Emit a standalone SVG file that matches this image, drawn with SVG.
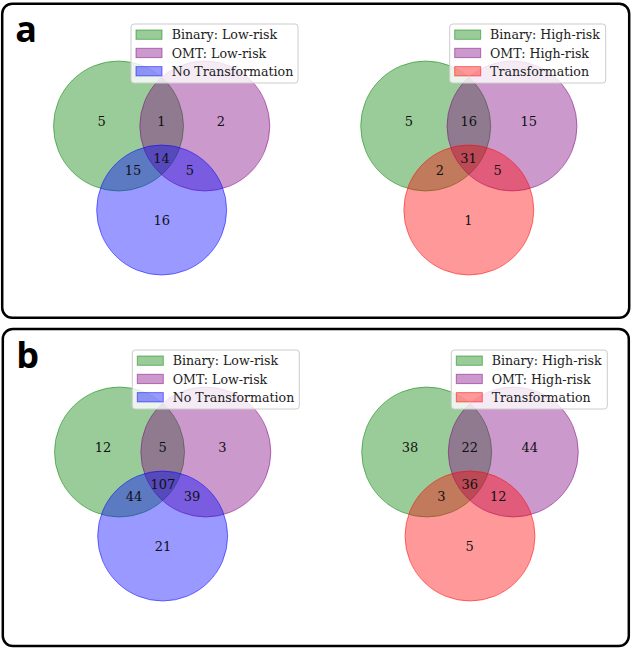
<svg xmlns="http://www.w3.org/2000/svg" width="633" height="648" viewBox="0 0 633 648">
<style>
.frame{fill:#fff;stroke:#000;stroke-width:2.5}
.plabel{font-family:"Open Sans","Liberation Sans",sans-serif;font-weight:bold;font-size:36px;fill:#000}
.c{stroke-width:1;fill-opacity:.4;stroke-opacity:.5}
.g{fill:#008000;stroke:#008000}
.p{fill:#800080;stroke:#800080}
.b{fill:#0000ff;stroke:#0000ff}
.r{fill:#ff0000;stroke:#ff0000}
.num{font-family:"DejaVu Serif",serif;font-size:13px;fill:#111;text-anchor:middle}
.leg{fill:#fff;fill-opacity:.8;stroke:#cccccc;stroke-width:1}
.lt{font-family:"DejaVu Serif",serif;font-size:12.6px;fill:#222}
</style>
<rect class="frame" x="2.2" y="3.8" width="627" height="314" rx="10"/>
<rect class="frame" x="2.8" y="329" width="626" height="317" rx="10"/>
<text class="plabel" x="15.3" y="42.3">a</text>
<text class="plabel" x="16.3" y="368">b</text>

<g id="panel-a">
  <g id="venn-a-low">
    <circle class="c g" cx="118.5" cy="126" r="65"/>
    <circle class="c p" cx="204.8" cy="126" r="65"/>
    <circle class="c b" cx="161.65" cy="210" r="65"/>
    <text class="num" x="101.7" y="126">5</text>
    <text class="num" x="161.3" y="126">1</text>
    <text class="num" x="221" y="126">2</text>
    <text class="num" x="161.5" y="163">14</text>
    <text class="num" x="133" y="175">15</text>
    <text class="num" x="190" y="175">5</text>
    <text class="num" x="161.7" y="225">16</text>
    <g id="legend-a-low">
      <rect class="leg" x="131" y="24" width="167" height="59" rx="3"/>
      <rect class="c g" x="136" y="30" width="26" height="9.3"/>
      <rect class="c p" x="136" y="48.3" width="26" height="9.3"/>
      <rect class="c b" x="136" y="66.6" width="26" height="9.3"/>
      <text class="lt" x="171.7" y="39.3">Binary: Low-risk</text>
      <text class="lt" x="171.7" y="57.6">OMT: Low-risk</text>
      <text class="lt" x="171.7" y="75.9">No Transformation</text>
    </g>
  </g>
  <g id="venn-a-high">
    <circle class="c g" cx="425.7" cy="126" r="65"/>
    <circle class="c p" cx="512" cy="126" r="65"/>
    <circle class="c r" cx="468.8" cy="210" r="65"/>
    <text class="num" x="409" y="126">5</text>
    <text class="num" x="468.7" y="126">16</text>
    <text class="num" x="528.7" y="126">15</text>
    <text class="num" x="468.5" y="163">31</text>
    <text class="num" x="440" y="175">2</text>
    <text class="num" x="497.7" y="175">5</text>
    <text class="num" x="468.5" y="225">1</text>
    <g id="legend-a-high">
      <rect class="leg" x="449.7" y="24" width="156" height="59" rx="3"/>
      <rect class="c g" x="454.7" y="30" width="26" height="9.3"/>
      <rect class="c p" x="454.7" y="48.3" width="26" height="9.3"/>
      <rect class="c r" x="454.7" y="66.6" width="26" height="9.3"/>
      <text class="lt" x="490" y="39.3">Binary: High-risk</text>
      <text class="lt" x="490" y="57.6">OMT: High-risk</text>
      <text class="lt" x="490" y="75.9">Transformation</text>
    </g>
  </g>
</g>

<g id="panel-b" transform="translate(1,326)">
  <g id="venn-b-low">
    <circle class="c g" cx="118.5" cy="126" r="65"/>
    <circle class="c p" cx="204.8" cy="126" r="65"/>
    <circle class="c b" cx="161.65" cy="210" r="65"/>
    <text class="num" x="102" y="126">12</text>
    <text class="num" x="161.7" y="126">5</text>
    <text class="num" x="221.5" y="126">3</text>
    <text class="num" x="162" y="163">107</text>
    <text class="num" x="133" y="175">44</text>
    <text class="num" x="191" y="175">39</text>
    <text class="num" x="162" y="225">21</text>
    <g id="legend-b-low">
      <rect class="leg" x="131.3" y="24" width="167" height="59" rx="3"/>
      <rect class="c g" x="136.3" y="30" width="26" height="9.3"/>
      <rect class="c p" x="136.3" y="48.3" width="26" height="9.3"/>
      <rect class="c b" x="136.3" y="66.6" width="26" height="9.3"/>
      <text class="lt" x="171.7" y="39.3">Binary: Low-risk</text>
      <text class="lt" x="171.7" y="57.6">OMT: Low-risk</text>
      <text class="lt" x="171.7" y="75.9">No Transformation</text>
    </g>
  </g>
  <g id="venn-b-high">
    <circle class="c g" cx="425.7" cy="126" r="65"/>
    <circle class="c p" cx="512.3" cy="126" r="65"/>
    <circle class="c r" cx="469" cy="210" r="65"/>
    <text class="num" x="409" y="126">38</text>
    <text class="num" x="468.7" y="126">22</text>
    <text class="num" x="528.7" y="126">44</text>
    <text class="num" x="468.7" y="163">36</text>
    <text class="num" x="440.3" y="175">3</text>
    <text class="num" x="497.3" y="175">12</text>
    <text class="num" x="468.7" y="225">5</text>
    <g id="legend-b-high">
      <rect class="leg" x="450.3" y="24" width="156" height="59" rx="3"/>
      <rect class="c g" x="455.3" y="30" width="26" height="9.3"/>
      <rect class="c p" x="455.3" y="48.3" width="26" height="9.3"/>
      <rect class="c r" x="455.3" y="66.6" width="26" height="9.3"/>
      <text class="lt" x="490.7" y="39.3">Binary: High-risk</text>
      <text class="lt" x="490.7" y="57.6">OMT: High-risk</text>
      <text class="lt" x="490.7" y="75.9">Transformation</text>
    </g>
  </g>
</g>
</svg>
